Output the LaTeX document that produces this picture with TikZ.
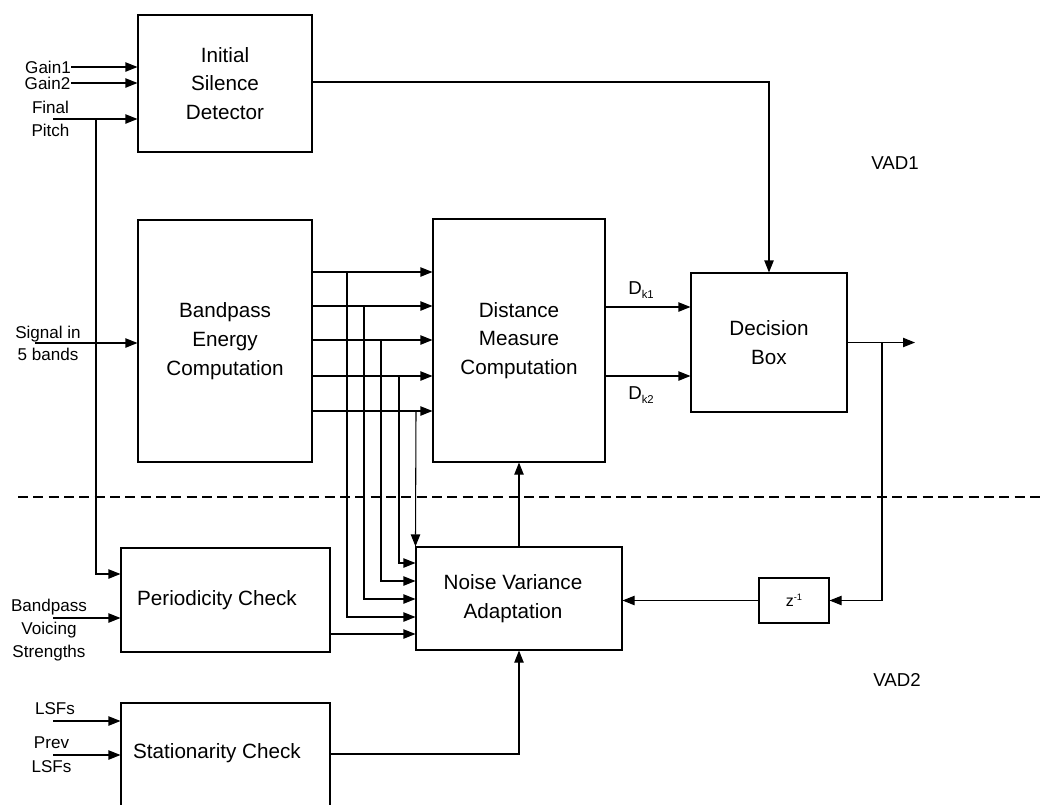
\documentclass[tikz,border=0pt]{standalone}
\usepackage{fontspec}
\setmainfont{Liberation Sans}
\usetikzlibrary{arrows.meta}
\begin{document}
\begin{tikzpicture}[x=0.75pt,y=-0.75pt,
  box/.style={draw, line width=0.8pt, inner sep=0pt, align=center, font=\fontsize{15.5}{21.5}\selectfont},
  btxt/.style={inner sep=0pt, align=center, font=\fontsize{15.5}{21.5}\selectfont},
  lbl/.style={inner sep=0pt, align=center, font=\fontsize{12.8}{17}\selectfont},
  vad/.style={inner sep=0pt, font=\fontsize{14}{16}\selectfont},
  ln/.style={line width=0.8pt},
  arr/.style={line width=0.8pt, -{Triangle[length=9pt,width=7pt]}},
  sep/.style={line width=0.8pt, dash pattern=on 7.5pt off 4pt}]
\useasboundingbox (0,0) rectangle (1041,804);

% boxes
\node[box, minimum width=130.5pt, minimum height=102.75pt] (isd) at (225,83.5) {Initial\\Silence\\Detector};
\node[box, minimum width=130.5pt, minimum height=181.5pt] (bp) at (225,341) {Bandpass\\Energy\\Computation};
\node[box, minimum width=129pt, minimum height=182.25pt] (dm) at (519,340.5) {Distance\\Measure\\Computation};
\node[box, minimum width=117pt, minimum height=104.25pt] (db) at (769,342.5) {Decision\\Box};
\node[box, minimum width=154.5pt, minimum height=77.25pt] (nv) at (519,598.5) {};
\node[btxt] (nvt) at (513,598.5) {Noise Variance\\Adaptation};
\node[box, minimum width=156.75pt, minimum height=78pt] (pc) at (225.5,600) {};
\node[btxt] (pct) at (217,600) {Periodicity Check};
\node[box, minimum width=156.75pt, minimum height=95.25pt] (sc) at (225.5,766.5) {};
\node[btxt] (sct) at (217,753) {Stationarity Check};
\node[box, minimum width=52.5pt, minimum height=33.75pt, font=\fontsize{12}{14}\selectfont] (z) at (794,600.5) {z\raisebox{0.75ex}{\fontsize{7}{7}\selectfont -1}};

% input labels
\node[lbl] (lg1) at (48,67) {Gain1};
\node[lbl] (lg2) at (47.5,83) {Gain2};
\node[lbl] (lfp) at (50.5,119) {Final\\Pitch};
\node[lbl] (lsig) at (48,343.5) {Signal in\\5 bands};
\node[lbl, font=\fontsize{12.8}{17.25}\selectfont] (lbv) at (49,630) {Bandpass\\Voicing\\Strengths};
\node[lbl] (llsf) at (55,709) {LSFs};
\node[lbl, font=\fontsize{12.8}{18}\selectfont] (lprev) at (51.5,755) {Prev\\LSFs};
\node[vad] (v1) at (895,163) {VAD1};
\node[vad] (v2) at (897,680) {VAD2};
\node[inner sep=0pt, font=\fontsize{14}{16}\selectfont] (dk1) at (641,290) {D\raisebox{-0.45ex}{\fontsize{8.5}{9}\selectfont k1}};
\node[inner sep=0pt, font=\fontsize{14}{16}\selectfont] (dk2) at (641,395) {D\raisebox{-0.45ex}{\fontsize{8.5}{9}\selectfont k2}};

% coordinates
\coordinate (g1) at (71,67);
\coordinate (g2) at (71,83);
\coordinate (fp) at (53,119);
\coordinate (fpb) at (96,119);
\coordinate (sig) at (35,343);
\coordinate (bv) at (53,618);
\coordinate (ls) at (53,721);
\coordinate (pl) at (53,755);
\coordinate (out) at (915,342.5);
\coordinate (fb) at (882,342.5);
\coordinate (scout) at (519,754);
\coordinate (d1) at (0,307);
\coordinate (d2) at (0,376);
\coordinate (b1) at (347,272);
\coordinate (b2) at (364,306);
\coordinate (b3) at (381,340);
\coordinate (b4) at (399,376);
\coordinate (b5) at (416,411);
\coordinate (n1) at (0,563);
\coordinate (n2) at (0,581);
\coordinate (n3) at (0,599);
\coordinate (n4) at (0,617);
\coordinate (n5) at (0,634);
\coordinate (sl) at (18,497);
\coordinate (sr) at (1041,497);

% inputs
\draw[arr] (g1) -- (isd.west |- g1);
\draw[arr] (g2) -- (isd.west |- g2);
\draw[arr] (fp) -- (isd.west |- fp);
\draw[arr] (fpb) |- (pc.west |- 0,574);
\draw[arr] (sig) -- (bp.west |- sig);
\draw[arr] (bv) -- (pc.west |- bv);
\draw[arr] (ls) -- (sc.west |- ls);
\draw[arr] (pl) -- (sc.west |- pl);

% bandpass to distance bundle
\foreach \b in {b1,b2,b3,b4,b5}
  \draw[arr] (bp.east |- \b) -- (dm.west |- \b);
\draw[arr] (b1) |- (nv.west |- n4);
\draw[arr] (b2) |- (nv.west |- n3);
\draw[arr] (b3) |- (nv.west |- n2);
\draw[arr] (b4) |- (nv.west |- n1);
\draw[arr] (b5) -- (nv.north west);
\draw[arr] (pc.east |- n5) -- (nv.west |- n5);

% other connectors
\draw[arr] (isd.east |- 0,82) -| (db.north);
\draw[arr] (dm.east |- d1) -- (db.west |- d1);
\draw[arr] (dm.east |- d2) -- (db.west |- d2);
\draw[arr] (db.east) -- (out);
\draw[arr] (fb) |- (z.east);
\draw[arr] (z.west) -- (nv.east |- z.west);
\draw[arr] (nv.north) -- (dm.south);
\draw[arr] (sc.east |- scout) -| (nv.south);

% separator
\draw[sep] (sl) -- (sr);
\end{tikzpicture}
\end{document}
